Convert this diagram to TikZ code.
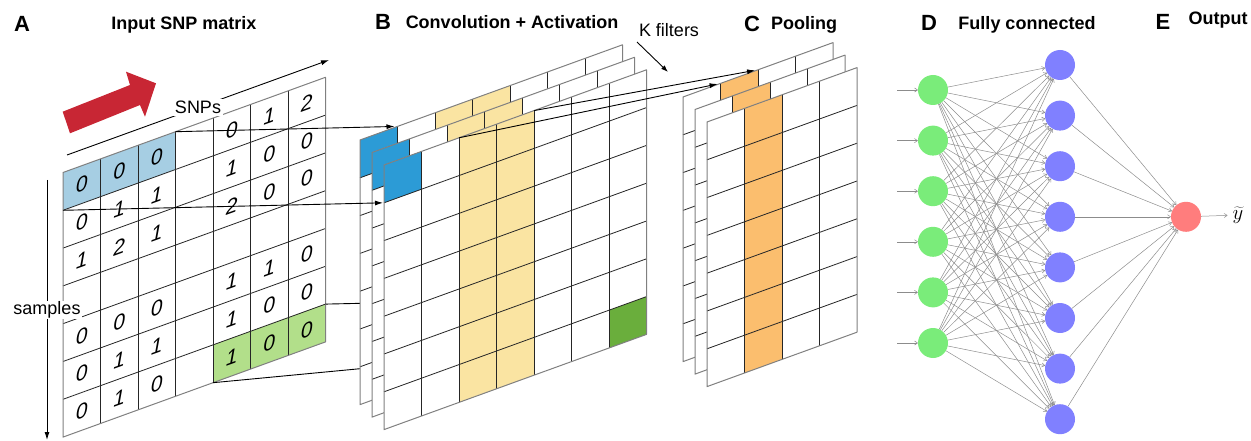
\documentclass[tikz,border=0pt]{standalone}
\usepackage{fontspec}
\setmainfont{Liberation Sans}
\usetikzlibrary{arrows.meta}
\definecolor{arrowred}{RGB}{200,38,52}
\definecolor{ablue}{RGB}{166,206,227}
\definecolor{agreen}{RGB}{178,223,138}
\definecolor{bblue}{RGB}{44,155,214}
\definecolor{bgreen}{RGB}{106,174,60}
\definecolor{byellow}{RGB}{250,228,162}
\definecolor{corange}{RGB}{251,190,110}
\definecolor{nngreen}{RGB}{122,236,122}
\definecolor{nnblue}{RGB}{128,128,255}
\definecolor{nnred}{RGB}{255,125,125}
\newcommand{\skewcell}[3]{\fill[#3] (#1,#2) -- ++(1,0) -- ++(0,1) -- ++(-1,0) -- cycle;}
\newcommand{\sheetgrid}[2]{%
  \foreach \i in {1,...,6} \draw[innerline] (0,\i) -- (#1,\i);
  \foreach \j in {#2} \draw[innerline] (\j,0) -- (\j,7);
  \draw[outerline] (0,0) -- (#1,0) -- (#1,7) -- (0,7) -- cycle;}
\begin{document}
\begin{tikzpicture}[x=1pt,y=-1pt,
  skew/.style={x={(37.5pt,13.6pt)},y={(0pt,-37.8pt)}},
  innerline/.style={draw=black!85,line width=0.8pt},
  outerline/.style={draw=black!50,line width=1pt,line join=round},
  conn/.style={draw=black,line width=0.9pt,-{Latex[length=8pt,width=5pt]}},
  plainconn/.style={draw=black,line width=0.9pt},
  digit/.style={font=\fontsize{21}{21}\selectfont\itshape,yslant=0.363,inner sep=0pt},
  title/.style={font=\fontsize{18}{20}\selectfont\bfseries,anchor=base},
  letter/.style={font=\fontsize{22}{24}\selectfont\bfseries,anchor=base},
  lbl/.style={font=\fontsize{18}{20}\selectfont},
  neuron/.style={circle,minimum size=30pt,inner sep=0pt},
  nnedge/.style={draw=black!45,line width=0.5pt,-{To[length=3.5pt,width=4.5pt]}}]
\useasboundingbox (0,0) rectangle (1251,441);

% ---------------- titles
\node[letter] (tA) at (22,31.5) {A};
\node[title] (tAt) at (184,30) {Input SNP matrix};
\node[letter] (tB) at (383,30) {B};
\node[title] (tBt) at (512,28.5) {Convolution + Activation};
\node[letter] (tC) at (752,31.5) {C};
\node[title] (tCt) at (804,29.5) {Pooling};
\node[letter] (tD) at (929,31) {D};
\node[title] (tDt) at (1027,29.5) {Fully connected};
\node[letter] (tE) at (1163,30) {E};
\node[title] (tEt) at (1218,25) {Output};

% ---------------- panel A: matrix
\begin{scope}[shift={(63,172.5)},skew]
  \fill[white] (0,0) -- (7,0) -- (7,7) -- (0,7) -- cycle;
  \foreach \c in {0,1,2} {\skewcell{\c}{0}{ablue}}
  \foreach \c in {4,5,6} {\skewcell{\c}{6}{agreen}}
  \sheetgrid{7}{1,...,6}
  \foreach \c/\r/\v in {0/0/0,1/0/0,2/0/0,4/0/0,5/0/1,6/0/2,
                        0/1/0,1/1/1,2/1/1,4/1/1,5/1/0,6/1/0,
                        0/2/1,1/2/2,2/2/1,4/2/2,5/2/0,6/2/0,
                        0/4/0,1/4/0,2/4/0,4/4/1,5/4/1,6/4/0,
                        0/5/0,1/5/1,2/5/1,4/5/1,5/5/0,6/5/0,
                        0/6/0,1/6/1,2/6/0,4/6/1,5/6/0,6/6/0}
    {\node[digit] (d\c\r) at (\c+0.5,\r+0.5) {\v};}
  \coordinate (A-btr) at (3,0);
  \coordinate (A-bbl) at (0,1);
  \coordinate (A-gtr) at (7,6);
  \coordinate (A-gbl) at (4,7);
\end{scope}

% red arrow
\fill[arrowred] (62.7,111.7) -- (130,85) -- (126,71.7) -- (156,83.3) -- (145,116.7) -- (140,105) -- (70,133.3) -- cycle;

% SNPs axis
\coordinate (snpS) at (67,155);
\coordinate (snpE) at (329,60);
\draw[line width=0.9pt,-{Latex[length=8pt,width=5pt]}] (snpS) -- node[lbl,fill=white,inner sep=2pt] (snps) {SNPs} (snpE);
% samples axis
\coordinate (smpS) at (47,180);
\coordinate (smpE) at (47,440);
\draw[line width=0.9pt,-{Latex[length=8pt,width=5pt]}] (smpS) -- node[lbl,fill=white,inner sep=1pt] (smp) {samples} (smpE);

% ---------------- panel B: convolution sheets
\coordinate (Bf-gtr0) at (646,297);
\coordinate (Bf-gbl0) at (609,345);
\draw[plainconn] (A-gtr) -- (Bf-gtr0);
\draw[plainconn] (A-gbl) -- (Bf-gbl0);
\foreach \ox/\oy/\nm in {360/140/Bk,372/152.5/Bm,384/165/Bf}{
  \begin{scope}[shift={(\ox,\oy)},skew]
    \fill[white] (0,0) -- (7,0) -- (7,7) -- (0,7) -- cycle;
    \skewcell{0}{0}{bblue}
    \foreach \r in {0,...,6} {\skewcell{2}{\r}{byellow}\skewcell{3}{\r}{byellow}}
    \skewcell{6}{6}{bgreen}
    \sheetgrid{7}{1,...,6}
    \coordinate (\nm-btr) at (1,0);
    \coordinate (\nm-bbl) at (0,1);
    \coordinate (\nm-ytl) at (2,0);
    \coordinate (\nm-ytr) at (4,0);
  \end{scope}}

% ---------------- panel C: pooling sheets
\foreach \ox/\oy/\nm in {683/97/Ck,695/109.5/Cm,707/122/Cf}{
  \begin{scope}[shift={(\ox,\oy)},skew]
    \fill[white] (0,0) -- (4,0) -- (4,7) -- (0,7) -- cycle;
    \foreach \r in {0,...,6} {\skewcell{1}{\r}{corange}}
    \sheetgrid{4}{1,2,3}
    \coordinate (\nm-otl) at (1,0);
    \coordinate (\nm-otr) at (2,0);
  \end{scope}}

% connectors A->B, B->C
\draw[conn,shorten >=3pt] (A-btr) -- (Bk-btr);
\draw[conn,shorten >=1pt] (A-bbl) -- (Bf-bbl);
\draw[conn,shorten >=3pt] (Bf-ytl) -- (Ck-otl);
\draw[conn,shorten >=3pt] (Bf-ytr) -- (Ck-otr);

% K filters
\node[lbl,anchor=base] (kf) at (669,37) {K filters};
\coordinate (kfS) at (637,42);
\coordinate (kfE) at (668,72);
\draw[line width=0.9pt,-{Latex[length=7pt,width=5pt]}] (kfS) -- (kfE);

% ---------------- panel D/E: network
\foreach \i/\yy in {1/90,2/140.6,3/191.2,4/241.8,5/292.4,6/343}{
  \node[neuron,fill=nngreen] (g\i) at (933,\yy) {};
  \coordinate (in\i) at (897,\yy);
  \draw[nnedge] (in\i) -- (g\i);}
\foreach \j/\yy in {1/65,2/115.6,3/166.2,4/216.8,5/267.4,6/318,7/368.6,8/419.2}{
  \node[neuron,fill=nnblue] (b\j) at (1060,\yy) {};}
\node[neuron,fill=nnred] (out) at (1186,216.8) {};
\foreach \i in {1,...,6}{\foreach \j in {1,...,8}{\draw[nnedge] (g\i) -- (b\j);}}
\foreach \j in {1,...,8}{\draw[nnedge] (b\j) -- (out);}
\node[font=\fontsize{20}{20}\selectfont,inner sep=1pt] (yt) at (1238,215) {$\widetilde{y}$};
\draw[nnedge,shorten >=4pt] (out) -- (yt);
\end{tikzpicture}
\end{document}
